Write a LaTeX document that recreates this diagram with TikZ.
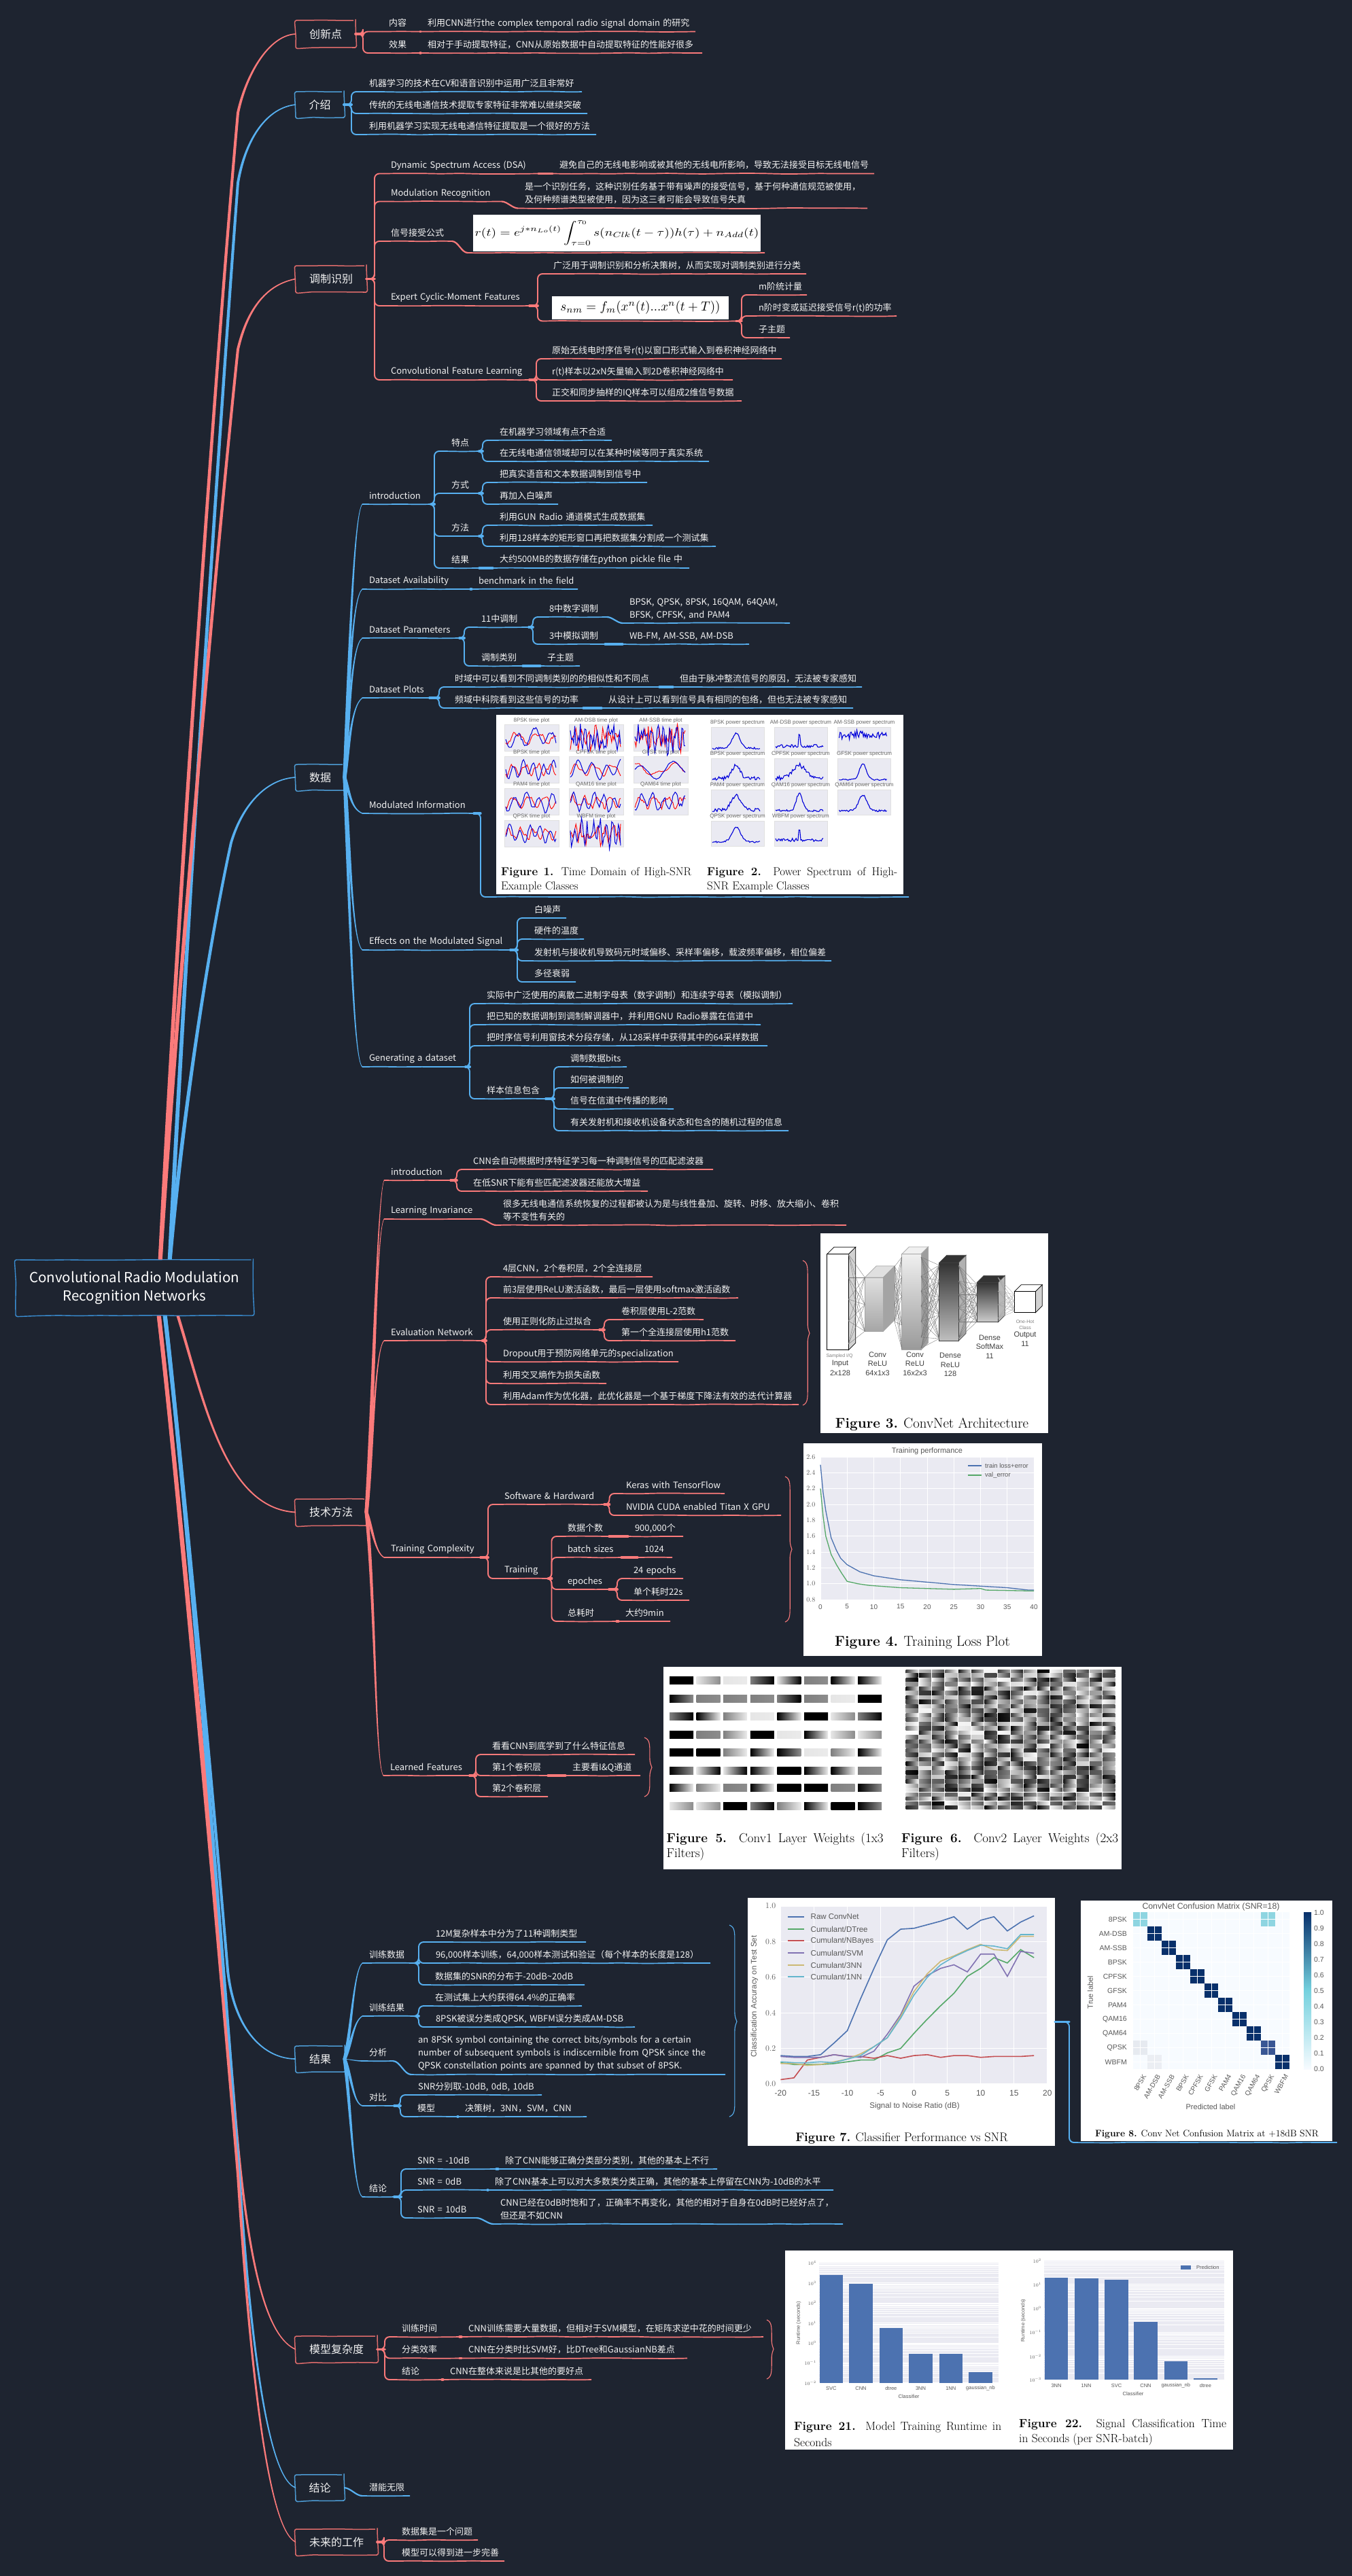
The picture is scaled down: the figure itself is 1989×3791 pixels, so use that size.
\documentclass[tikz,border=0pt]{standalone}
\usepackage{fontspec}
\usetikzlibrary{calc,decorations.pathmorphing}
\newfontfamily\cjk{Noto Sans CJK SC}
\newfontfamily\arl{Liberation Sans}
\definecolor{bgc}{HTML}{1E2430}
\definecolor{rd}{HTML}{FB7A7A}
\definecolor{bl}{HTML}{57B0F0}
\definecolor{rootb}{HTML}{3A8DD2}
\definecolor{panel}{HTML}{EAEAF2}
\definecolor{cB}{HTML}{4C72B0}
\definecolor{cG}{HTML}{55A868}
\definecolor{cR}{HTML}{C44E52}
\definecolor{cP}{HTML}{8172B2}
\definecolor{cY}{HTML}{CCB974}
\definecolor{cC}{HTML}{64B5CD}
\definecolor{cmD}{HTML}{08306B}
\definecolor{cmL}{HTML}{F7FBFF}
\colorlet{cur}{rd}
\tikzset{
 tn/.style={anchor=south west,inner xsep=10pt,inner ysep=5pt,outer sep=0pt,align=left,text=white!95!black,font=\cjk\fontsize{13}{19}\selectfont},
 ul/.style={draw=cur,line width=1.7pt,decorate,decoration={random steps,segment length=28pt,amplitude=0.55pt},rounded corners=8pt},
 brk/.style={draw=cur,line width=1.9pt,rounded corners=7pt},
 stub/.style={draw=cur,line width=3.4pt,line cap=round},
 slnt/.style={draw=cur,line width=2.2pt},
 tp/.style={fill=cur},
 bx/.style={draw=cur!88!black,line width=1.5pt,rounded corners=3pt,text=white!95!black,font=\cjk\fontsize{16}{20}\selectfont,inner sep=0pt,outer sep=0pt,decorate,decoration={random steps,segment length=22pt,amplitude=0.5pt}},
 sb/.style={draw=cur,line width=1.1pt},
 fig/.style={fill=white,draw=none,inner sep=0pt,outer sep=0pt,anchor=north west},
 ftt/.style={font=\arl\fontsize{8}{9}\selectfont,text=black!60,inner sep=0pt},
 ax/.style={font=\arl\fontsize{10.5}{12}\selectfont,text=black!65,inner sep=0pt},
 nlab/.style={font=\arl\fontsize{11}{13}\selectfont,text=black!75,inner sep=0pt},
 nsm/.style={font=\arl\fontsize{7}{8}\selectfont,text=black!50,inner sep=0pt},
 cpt/.style={inner sep=0pt,anchor=west,text=black,font=\fontsize{17}{20}\selectfont},
 nnl/.style={draw=black!55,line width=.35pt},
 tk/.style={font=\fontsize{7}{8}\selectfont,text=black!65,inner sep=0pt},
 tk2/.style={font=\arl\fontsize{7.5}{8}\selectfont,text=black!65,inner sep=0pt},
}
\newcommand\tn[5]{\pgfmathsetmacro\tnw{#3-#2-10}\node[tn,text width=\tnw pt] (#1) at (#2-10,#4) {\mbox{#5}\rule[-3pt]{0pt}{13pt}};\draw[ul] (#1.south west) -- (#1.south east);}
\newcommand\tnm[5]{\pgfmathsetmacro\tnw{#3-#2-10}\node[tn,text width=\tnw pt] (#1) at (#2-10,#4) {#5\rule[-3pt]{0pt}{13pt}};\draw[ul] (#1.south west) -- (#1.south east);}
\newcommand\bxn[6]{\pgfmathsetmacro\bw{#3-#2}\pgfmathsetmacro\bh{#5-#4}\node[bx,minimum width=\bw pt,minimum height=\bh pt] (#1) at ({(#2+#3)/2},{(#4+#5)/2}) {#6};}
\newcommand\br[3]{\draw[brk] (#1) -- (#3,0 |- #1) -- (#3,0 |- #2) -- (#2);\draw[stub] (#1) -- (#3,0 |- #1);}
\newcommand\lk[2]{\draw[stub] (#1.south east) -- (#2.south west);}
\newcommand\slnt[2]{\draw[slnt] (#1) to[out=0,in=180,looseness=.8] (#2);}
\newcommand\tapA[6]{\fill[tp] ($(#1)+(-#5,0)$) .. controls ($(#2)+(-#5*0.9,0)$) and ($(#3)+(-#6*1.1,0)$) .. ($(#4)+(-#6,0)$) -- ($(#4)+(#6,0)$) .. controls ($(#3)+(#6*1.1,0)$) and ($(#2)+(#5*0.9,0)$) .. ($(#1)+(#5,0)$) -- cycle;}
\newcommand\tapB[7]{\fill[tp] ($(#1)+(-#5,0)$) .. controls ($(#2)+(-#5*0.8,0)$) and ($(#3)+(-#6,{(#7)*(#6)})$) .. ($(#4)+(0,{(#7)*(#6)})$) -- ($(#4)+(0,{-(#7)*(#6)})$) .. controls ($(#3)+(#6,{-(#7)*(#6)})$) and ($(#2)+(#5*0.8,0)$) .. ($(#1)+(#5,0)$) -- cycle;}
\newcommand\sbrace[5]{\pgfmathsetmacro\xm{#1+0.72*(#2-#1)}\draw[sb] (#1,#3) .. controls (\xm,#3+3) and (\xm,#3+10) .. (\xm,#3+24) -- (\xm,#4-14) .. controls (\xm,#4-6) and (#2-1,#4-3) .. (#2,#4) .. controls (#2-1,#4+3) and (\xm,#4+6) .. (\xm,#4+14) -- (\xm,#5-24) .. controls (\xm,#5-10) and (\xm,#5-3) .. (#1,#5);}
\newcommand\fign[5]{\pgfmathsetmacro\bw{#4-#2}\pgfmathsetmacro\bh{#5-#3}\node[fig,minimum width=\bw pt,minimum height=\bh pt] (#1) at (#2,#3) {};}
\newcommand\tpl[6]{\fill[panel,draw=black!12,line width=.5pt] (#1,#2) rectangle ++(80,39);\node[ftt] at (#1+40,#2-6) {#3 time plot};
 \draw[red,line width=.9pt] plot[domain=0:1,samples=46,variable=\t] ({#1+2+\t*74},{#2+19.5+7*sin(\t*360*#4*0.8+#6+70)+3*sin(\t*360*#4*1.7+#6)+#5*(rnd-.5)*30});
 \draw[blue!85!black,line width=1pt] plot[domain=0:1,samples=46,variable=\t] ({#1+2+\t*74},{#2+19.5+10*sin(\t*360*#4+#6)+5*sin(\t*360*#4*0.37+#6*2)+#5*(rnd-.5)*30});}
\newcommand\spl[7]{\fill[panel,draw=black!12,line width=.5pt] (#1,#2) rectangle ++(78,37);\node[ftt] at (#1+39,#2-6.5) {#3 power spectrum};
 \draw[blue!85!black,line width=1.1pt] plot[domain=0:1,samples=52,variable=\t] ({#1+2+\t*70},{#2+32-#7-27*#4*exp(-((\t-0.5)/#5)*((\t-0.5)/#5))-#6*rnd*22});}
\newcommand\blk[8]{% x0 y0 x1 y1 depth topcol botcol outline
 \colorlet{sidec}{#7}
 \draw[#8,line width=.7pt,fill=#6] (#1,#2) -- ++(#5,-#5) -- (#3+#5,#2-#5) -- (#3,#2) -- cycle;
 \draw[#8,line width=.7pt,fill=sidec!75!black!70!white] (#3,#2) -- (#3+#5,#2-#5) -- (#3+#5,#4-#5) -- (#3,#4) -- cycle;
 \shade[top color=#6,bottom color=#7] (#1,#2) rectangle (#3,#4);\draw[#8,line width=.7pt] (#1,#2) rectangle (#3,#4);}
\begin{document}
\begin{tikzpicture}[x=1pt,y=-1pt]
\pgfmathsetseed{11}
\useasboundingbox (0,0) rectangle (1989,3791);
\fill[bgc] (0,0) rectangle (1989,3791);
% ---- root
\node[draw=rootb,line width=1.4pt,rounded corners=3pt,minimum width=349.5pt,minimum height=82pt,align=center,inner sep=0pt,text=white,font=\cjk\fontsize{20.5}{27}\selectfont,decorate,decoration={random steps,segment length=30pt,amplitude=.5pt}] (root) at (197.75,1895) {Convolutional Radio Modulation\\Recognition Networks};
\coordinate (rtA) at ([xshift=38pt]root.north);
\coordinate (rtB) at ([xshift=52pt]root.north);
\coordinate (rbA) at ([xshift=36pt]root.south);
\coordinate (rbB) at ([xshift=45pt]root.south);
\coordinate (rbC) at ([xshift=64pt]root.south);
% ---- 创新点
\colorlet{cur}{rd}
\bxn{cxd}{435}{523}{30}{70}{创新点}
\tn{nr}{572}{618}{46.5}{内容}
\tn{nrt}{629}{1023}{46.5}{利用CNN进行the complex temporal radio signal domain 的研究}
\tn{xg}{572}{618}{78}{效果}
\tn{xgt}{629}{1033}{78}{相对于手动提取特征，CNN从原始数据中自动提取特征的性能好很多}
\br{cxd.east}{nr.south west}{534}\br{cxd.east}{xg.south west}{534}\lk{nr}{nrt}\lk{xg}{xgt}
\coordinate (mA) at (350,166);
\tapA{rtA}{263,1300}{320,500}{mA}{3}{2}
\tapB{mA}{362,110}{395,52}{cxd.west}{2}{.8}{-1}
% ---- 介绍
\colorlet{cur}{bl}
\bxn{js}{435}{506}{135}{173}{介绍}
\tn{js1}{543}{856}{135}{机器学习的技术在CV和语音识别中运用广泛且非常好}
\tn{js2}{543}{864}{167}{传统的无线电通信技术提取专家特征非常难以继续突破}
\tn{js3}{543}{877}{198}{利用机器学习实现无线电通信特征提取是一个很好的方法}
\br{js.east}{js1.south west}{517}\br{js.east}{js2.south west}{517}\br{js.east}{js3.south west}{517}
\coordinate (mB) at (350,269);
\tapA{rtB}{275,1350}{325,600}{mB}{3}{2}
\tapB{mB}{362,200}{395,158}{js.west}{2}{.8}{-1}
% ---- 调制识别
\colorlet{cur}{rd}
\bxn{tz}{435}{539}{391}{430}{调制识别}
\tn{dsa}{575}{792}{255.5}{Dynamic Spectrum Access (DSA)}
\tn{dsat}{823}{1286}{255.5}{避免自己的无线电影响或被其他的无线电所影响，导致无法接受目标无线电信号}
\tn{mr}{575}{738}{296.5}{Modulation Recognition}
\tnm{mrt}{772}{1276}{306.5}{\mbox{是一个识别任务，这种识别任务基于带有噪声的接受信号，基于何种通信规范被使用，}\\\mbox{及何种频谱类型被使用，因为这三者可能会导致信号失真}}
\tn{xh}{575}{665}{355}{信号接受公式}
\node[fill=white,minimum width=423pt,minimum height=54pt,inner sep=0pt,outer sep=0pt] (eqa) at (907.5,343) {};
\node[xscale=1.95,yscale=1.6,text=black,inner sep=0pt] (eqat) at (eqa.center) {$\displaystyle r(t)=e^{j*n_{Lo}(t)}\int_{\tau=0}^{\tau_0} s(n_{Clk}(t-\tau))h(\tau)+n_{Add}(t)$};
\coordinate (eqal) at ([shift={(-8,2)}]eqa.south west);
\coordinate (eqar) at ([shift={(6,2)}]eqa.south east);
\draw[ul] (eqal) -- (eqar);
\tn{ec}{575}{779}{450}{Expert Cyclic-Moment Features}
\tn{ec1}{814}{1186}{403}{广泛用于调制识别和分析决策树，从而实现对调制类别进行分类}
\node[fill=white,minimum width=260pt,minimum height=34pt,inner sep=0pt,outer sep=0pt] (eqb) at (942,453) {};
\node[xscale=1.9,yscale=1.95,text=black,inner sep=0pt] (eqbt) at (eqb.center) {$s_{nm}=f_m(x^n(t)...x^n(t+T))$};
\coordinate (eqbl) at ([shift={(-13,2.5)}]eqb.south west);
\coordinate (eqbr) at ([shift={(11,2.5)}]eqb.south east);
\draw[ul] (eqbl) -- (eqbr);
\tn{ec2}{1116}{1187}{434}{m阶统计量}
\tn{ec3}{1116}{1319}{465}{n阶时变或延迟接受信号r(t)的功率}
\tn{ec4}{1116}{1162}{497}{子主题}
\tn{cf}{575}{779}{559}{Convolutional Feature Learning}
\tn{cf1}{812}{1150}{528}{原始无线电时序信号r(t)以窗口形式输入到卷积神经网络中}
\tn{cf2}{812}{1078}{559}{r(t)样本以2xN矢量输入到2D卷积神经网络中}
\tn{cf3}{812}{1091}{590}{正交和同步抽样的IQ样本可以组成2维信号数据}
\foreach \c in {dsa,mr,xh,ec,cf}{\br{tz.east}{\c.south west}{551}}
\lk{dsa}{dsat}
\slnt{mr.south east}{mrt.south west}
\slnt{xh.south east}{eqal}
\br{ec.south east}{ec1.south west}{791}\br{ec.south east}{eqbl}{791}
\foreach \c in {ec2,ec3,ec4}{\br{eqbr}{\c.south west}{1091}}
\foreach \c in {cf1,cf2,cf3}{\br{cf.south east}{\c.south west}{789}}
\coordinate (mC) at (350,514);
\tapA{rtA}{265,1400}{325,750}{mC}{3}{2}
\tapB{mC}{365,450}{395,418}{tz.west}{2}{.8}{-1}
% ---- 数据
\colorlet{cur}{bl}
\bxn{sj}{435}{507}{1125}{1163}{数据}
\tn{di}{543}{635}{742}{introduction}
\tn{td}{664}{705}{664}{特点}
\tn{td1}{735}{900}{648}{在机器学习领域有点不合适}
\tn{td2}{735}{1043}{679}{在无线电通信领域却可以在某种时候等同于真实系统}
\tn{fs}{664}{705}{726}{方式}
\tn{fs1}{735}{952}{710}{把真实语音和文本数据调制到信号中}
\tn{fs2}{735}{821}{742}{再加入白噪声}
\tn{ff}{664}{705}{789}{方法}
\tn{ff1}{735}{960}{773}{利用GUN Radio 通道模式生成数据集}
\tn{ff2}{735}{1053}{804}{利用128样本的矩形窗口再把数据集分割成一个测试集}
\tn{jg}{664}{705}{836}{结果}
\tn{jg1}{735}{1014}{836}{大约500MB的数据存储在python pickle file 中}
\foreach \c in {td,fs,ff,jg}{\br{di.south east}{\c.south west}{639}}
\foreach \c in {td1,td2}{\br{td.south east}{\c.south west}{710}}
\foreach \c in {fs1,fs2}{\br{fs.south east}{\c.south west}{710}}
\foreach \c in {ff1,ff2}{\br{ff.south east}{\c.south west}{710}}
\lk{jg}{jg1}
\tn{da}{543}{692}{867}{Dataset Availability}
\tn{da1}{704}{850}{867}{benchmark in the field}
\lk{da}{da1}
\tn{dp}{543}{676}{939}{Dataset Parameters}
\tn{dp1}{708}{778}{923}{11中调制}
\tn{dp2}{808}{893}{908}{8中数字调制}
\tnm{dp3}{926}{1162}{917}{\mbox{BPSK, QPSK, 8PSK, 16QAM, 64QAM,}\\\mbox{BFSK, CPFSK, and PAM4}}
\tn{dp4}{808}{890}{948}{3中模拟调制}
\tn{dp5}{926}{1102}{948}{WB-FM, AM-SSB, AM-DSB}
\tn{dp6}{708}{769}{980}{调制类别}
\tn{dp7}{805}{853}{980}{子主题}
\br{dp.south east}{dp1.south west}{683}\br{dp.south east}{dp6.south west}{683}
\br{dp1.south east}{dp2.south west}{784}\br{dp1.south east}{dp4.south west}{784}
\slnt{dp2.south east}{dp3.south west}
\lk{dp4}{dp5}\lk{dp6}{dp7}
\tn{dq}{543}{632}{1027}{Dataset Plots}
\tn{dq1}{669}{970}{1011}{时域中可以看到不同调制类别的的相似性和不同点}
\tn{dq2}{1000}{1268}{1011}{但由于脉冲整流信号的原因，无法被专家感知}
\tn{dq3}{669}{858}{1042}{频域中科院看到这些信号的功率}
\tn{dq4}{895}{1255}{1042}{从设计上可以看到信号具有相同的包络，但也无法被专家感知}
\br{dq.south east}{dq1.south west}{646}\br{dq.south east}{dq3.south west}{646}
\lk{dq1}{dq2}\lk{dq3}{dq4}
\tn{dm}{543}{697}{1197}{Modulated Information}
\fign{fa}{730}{1052}{1329}{1316}
\coordinate (fal) at ([shift={(-6,4)}]fa.south west);
\coordinate (far) at ([shift={(8,4)}]fa.south east);
\draw[ul] (fal) -- (far);
\br{dm.south east}{fal}{707}
\tn{de}{543}{751}{1398}{Effects on the Modulated Signal}
\tn{de1}{786}{833}{1351}{白噪声}
\tn{de2}{786}{859}{1382}{硬件的温度}
\tn{de3}{786}{1223}{1414}{发射机与接收机导致码元时域偏移、采样率偏移，载波频率偏移，相位偏差}
\tn{de4}{786}{847}{1445}{多径衰弱}
\foreach \c in {de1,de2,de3,de4}{\br{de.south east}{\c.south west}{761}}
\tn{dg}{543}{685}{1570}{Generating a dataset}
\tn{dg1}{716}{1166}{1477}{实际中广泛使用的离散二进制字母表（数字调制）和连续字母表（模拟调制）}
\tn{dg2}{716}{1119}{1508}{把已知的数据调制到调制解调器中，并利用GNU Radio暴露在信道中}
\tn{dg3}{716}{1129}{1539}{把时序信号利用窗技术分段存储，从128采样中获得其中的64采样数据}
\tn{dg4}{716}{803}{1617}{样本信息包含}
\tn{dg5}{839}{922}{1570}{调制数据bits}
\tn{dg6}{839}{925}{1601}{如何被调制的}
\tn{dg7}{839}{991}{1632}{信号在信道中传播的影响}
\tn{dg8}{839}{1160}{1664}{有关发射机和接收机设备状态和包含的随机过程的信息}
\foreach \c in {dg1,dg2,dg3,dg4}{\br{dg.south east}{\c.south west}{691}}
\foreach \c in {dg5,dg6,dg7,dg8}{\br{dg4.south east}{\c.south west}{815}}
\coordinate (mD) at (340,1240);
\tapA{rtB}{268,1650}{305,1400}{mD}{3}{2}
\tapB{mD}{358,1180}{395,1146}{sj.west}{2}{.8}{-1}
\tapB{sj.east}{514,950}{521,755}{di.south west}{2.6}{.8}{-1}
\tapB{sj.east}{514,1000}{518,880}{da.south west}{2.6}{.8}{-1}
\tapB{sj.east}{514,1050}{517,950}{dp.south west}{2.6}{.8}{-1}
\tapB{sj.east}{514,1100}{516,1040}{dq.south west}{2.6}{.8}{-1}
\tapB{sj.east}{515,1170}{517,1190}{dm.south west}{2.6}{.8}{1}
\tapB{sj.east}{515,1250}{518,1385}{de.south west}{2.6}{.8}{1}
\tapB{sj.east}{515,1350}{520,1560}{dg.south west}{2.6}{.8}{1}
% ---- figure 1,2
\tpl{742}{1066.5}{8PSK}{3}{.15}{10}\tpl{837}{1066.5}{AM-DSB}{9}{.9}{0}\tpl{932}{1066.5}{AM-SSB}{8}{1.1}{40}
\tpl{742}{1113}{BPSK}{5}{.1}{0}\tpl{837}{1113}{CPFSK}{3.5}{.05}{80}\tpl{932}{1113}{GFSK}{1.6}{.05}{200}
\tpl{742}{1160.5}{PAM4}{4}{.15}{30}\tpl{837}{1160.5}{QAM16}{5}{.15}{140}\tpl{932}{1160.5}{QAM64}{4.5}{.2}{60}
\tpl{742}{1207.5}{QPSK}{5}{.1}{120}\tpl{837}{1207.5}{WBFM}{8}{.8}{20}
\spl{1046}{1070.5}{8PSK}{.8}{.12}{.12}{0}\spl{1139}{1070.5}{AM-DSB}{.9}{.015}{.22}{2}\spl{1232.5}{1070.5}{AM-SSB}{.1}{.2}{.55}{14}
\spl{1046}{1116.5}{BPSK}{.75}{.12}{.25}{0}\spl{1139}{1116.5}{CPFSK}{.7}{.18}{.3}{0}\spl{1232.5}{1116.5}{GFSK}{.9}{.1}{.1}{0}
\spl{1046}{1162.5}{PAM4}{.8}{.14}{.22}{0}\spl{1139}{1162.5}{QAM16}{.95}{.09}{.15}{0}\spl{1232.5}{1162.5}{QAM64}{.85}{.12}{.12}{0}
\spl{1046}{1208.5}{QPSK}{.8}{.13}{.12}{0}\spl{1139}{1208.5}{WBFM}{.9}{.015}{.22}{2}
\node[cpt] (ca1) at (737,1284) {\makebox[280pt][s]{\textbf{Figure 1.} Time Domain of High-SNR}};
\node[cpt] (ca1b) at (737,1305) {Example Classes};
\node[cpt] (ca2) at (1040,1284) {\makebox[280pt][s]{\textbf{Figure 2.} Power Spectrum of High-}};
\node[cpt] (ca2b) at (1040,1305) {SNR Example Classes};
% ---- 技术方法
\colorlet{cur}{rd}
\bxn{js0}{435}{539}{2206}{2245}{技术方法}
\tapB{rbC}{300,2060}{330,2220}{js0.west}{2.2}{.9}{1}
\tn{ti}{575}{663}{1737}{introduction}
\tn{ti1}{696}{1049}{1721}{CNN会自动根据时序特征学习每一种调制信号的匹配滤波器}
\tn{ti2}{696}{953}{1753}{在低SNR下能有些匹配滤波器还能放大增益}
\foreach \c in {ti1,ti2}{\br{ti.south east}{\c.south west}{672}}
\tn{tl}{575}{707}{1794}{Learning Invariance}
\tnm{tl1}{740}{1245}{1803}{\mbox{很多无线电通信系统恢复的过程都被认为是与线性叠加、旋转、时移、放大缩小、卷积}\\\mbox{等不变性有关的}}
\slnt{tl.south east}{tl1.south west}
\tn{te}{575}{710}{1973}{Evaluation Network}
\tn{te1}{740}{960}{1879}{4层CNN，2个卷积层，2个全连接层}
\tn{te2}{740}{1086}{1910}{前3层使用ReLU激活函数，最后一层使用softmax激活函数}
\tn{te3}{740}{882}{1957}{使用正则化防止过拟合}
\tn{te3a}{914}{1035}{1942}{卷积层使用L-2范数}
\tn{te3b}{914}{1082}{1973}{第一个全连接层使用h1范数}
\tn{te4}{740}{998}{2004}{Dropout用于预防网络单元的specialization}
\tn{te5}{740}{892}{2036}{利用交叉熵作为损失函数}
\tn{te6}{740}{1175}{2067}{利用Adam作为优化器，此优化器是一个基于梯度下降法有效的迭代计算器}
\foreach \c in {te1,te2,te3,te4,te5,te6}{\br{te.south east}{\c.south west}{715}}
\foreach \c in {te3a,te3b}{\br{te3.south east}{\c.south west}{889}}
\sbrace{1181}{1191}{1855}{1962}{2068}
\tn{tt}{575}{707}{2292}{Training Complexity}
\tn{ts}{742}{889}{2214}{Software \& Hardward}
\tn{ts1}{921}{1066}{2198}{Keras with TensorFlow}
\tn{ts2}{921}{1149}{2230}{NVIDIA CUDA enabled Titan X GPU}
\tn{tr}{742}{807}{2323}{Training}
\tn{tr1}{835}{896}{2261}{数据个数}
\tn{tr1a}{934}{1005}{2261}{900,000个}
\tn{tr2}{835}{914}{2292}{batch sizes}
\tn{tr2a}{948}{989}{2292}{1024}
\tn{tr3}{835}{896}{2339}{epoches}
\tn{tr3a}{932}{1005}{2323}{24 epochs}
\tn{tr3b}{932}{1014}{2355}{单个耗时22s}
\tn{tr4}{835}{907}{2386}{总耗时}
\tn{tr4a}{920}{986}{2386}{大约9min}
\foreach \c in {ts,tr}{\br{tt.south east}{\c.south west}{718}}
\foreach \c in {ts1,ts2}{\br{ts.south east}{\c.south west}{896.5}}
\foreach \c in {tr1,tr2,tr3,tr4}{\br{tr.south east}{\c.south west}{811.5}}
\foreach \c in {tr3a,tr3b}{\br{tr3.south east}{\c.south west}{908}}
\lk{tr1}{tr1a}\lk{tr2}{tr2a}\lk{tr4}{tr4a}
\sbrace{1155}{1165}{2173}{2280}{2387}
\tn{tf}{574}{691}{2613}{Learned Features}
\tn{tf1}{724}{934}{2582}{看看CNN到底学到了什么特征信息}
\tn{tf2}{724}{806}{2613}{第1个卷积层}
\tn{tf2a}{842}{942}{2613}{主要看I\&Q通道}
\tn{tf3}{724}{806}{2644}{第2个卷积层}
\foreach \c in {tf1,tf2,tf3}{\br{tf.south east}{\c.south west}{700}}
\lk{tf2}{tf2a}
\sbrace{948}{959}{2557}{2601}{2644}
\tapB{js0.east}{549,2050}{555,1760}{ti.south west}{2.6}{.8}{-1}
\tapB{js0.east}{550,2100}{553,1810}{tl.south west}{2.6}{.8}{-1}
\tapB{js0.east}{548,2150}{551,1985}{te.south west}{2.6}{.8}{-1}
\tapB{js0.east}{548,2250}{552,2285}{tt.south west}{2.6}{.8}{1}
\tapB{js0.east}{552,2350}{552,2600}{tf.south west}{2.6}{.8}{1}
% ---- figure 3
\fign{fc}{1207}{1815}{1542}{2109}
\blk{1216.7}{1845.7}{1248.3}{1986.7}{10.5}{white}{white}{black}
\blk{1272.3}{1880}{1299.3}{1959.3}{17}{black!12}{black!35}{black!35}
\blk{1326.7}{1845.7}{1355}{1986.7}{10.7}{black!6}{black!40}{black!35}
\blk{1381.7}{1858.3}{1410}{1973.3}{11}{black!80}{black!25}{black!75}
\blk{1437.3}{1887.3}{1468.3}{1945.7}{10}{black!80}{black!20}{black!75}
\blk{1492.3}{1900.7}{1523.3}{1931.7}{10}{white}{white}{black}
\foreach \a in {1846,1880,1912,1944,1978}{\foreach \b in {1880,1920,1959}{\draw[nnl] (1248.3,\a) -- (1272.3,\b);}}
\foreach \a in {1864,1892,1920,1945}{\foreach \b in {1850,1880,1908,1950,1985}{\draw[nnl] (1316,\a) -- (1326.7,\b);}}
\foreach \a in {1850,1878,1900,1922,1945,1968,1984}{\foreach \b in {1862,1885,1910,1935,1970}{\draw[nnl] (1355,\a) -- (1381.7,\b);}}
\foreach \a in {1862,1885,1905,1925,1945,1970}{\foreach \b in {1890,1905,1920,1935,1945}{\draw[nnl] (1410,\a) -- (1437.3,\b);}}
\foreach \a in {1880,1900,1920,1940}{\foreach \b in {1905,1915,1925,1930}{\draw[nnl,draw=black!35] (1468.3,\a) -- (1492.3,\b);}}
\node[nsm] (l1) at (1235,1996) {Sampled I/Q};
\node[nlab] (l2) at (1236,2007) {Input};
\node[nlab] (l3) at (1236,2021) {2x128};
\node[nlab] (l4) at (1291,1994) {Conv};\node[nlab] (l5) at (1291,2007) {ReLU};\node[nlab] (l6) at (1291,2021) {64x1x3};
\node[nlab] (l7) at (1346,1994) {Conv};\node[nlab] (l8) at (1346,2007) {ReLU};\node[nlab] (l9) at (1346,2021) {16x2x3};
\node[nlab] (l10) at (1398,1995) {Dense};\node[nlab] (l11) at (1398,2009) {ReLU};\node[nlab] (l12) at (1398,2022) {128};
\node[nlab] (l13) at (1456,1969) {Dense};\node[nlab] (l14) at (1456,1982) {SoftMax};\node[nlab] (l15) at (1456,1996) {11};
\node[nsm] (l16) at (1508,1945) {One-Hot};\node[nsm] (l17) at (1508,1954) {Class};\node[nlab] (l18) at (1508,1965) {Output};\node[nlab] (l19) at (1508,1978) {11};
\node[cpt,anchor=center,font=\fontsize{20.8}{24}\selectfont] (cc) at (1371,2096) {\textbf{Figure 3.} ConvNet Architecture};
% ---- figure 4
\fign{fd}{1182}{2124}{1533}{2437}
\begin{scope}[shift={(1207,2447.4)},x=7.85pt,y=116.7pt]
\fill[panel] (0,.8) rectangle (40,2.6);
\foreach \v in {.8,1,...,2.6}{\draw[white,line width=1pt] (0,\v) -- (40,\v);\node[tk2,font=\arl\fontsize{10}{11}\selectfont] at (-1.8,\v) {\pgfmathprintnumber[fixed,fixed zerofill,precision=1]{\v}};}
\foreach \v in {0,5,...,40}{\draw[white,line width=1pt] (\v,.8) -- (\v,2.6);\node[tk2,font=\arl\fontsize{10}{11}\selectfont] at (\v,.71) {\v};}
\draw[cB,line width=1.3pt] plot coordinates {(0,2.5)(.5,2.15)(1,1.92)(2,1.58)(3,1.42)(3.8,1.32)(5,1.24)(7.4,1.15)(10,1.1)(15,1.05)(20,1.02)(25,.99)(30,.97)(35,.95)(39,.92)(40,.92)};
\draw[cG,line width=1.3pt] plot coordinates {(0,2.2)(.5,1.85)(1,1.6)(2,1.37)(3,1.24)(4,1.13)(5,1.03)(7,1)(9,.98)(15,.95)(25,.93)(30,.94)(31,.92)(39,.91)(40,.91)};
\end{scope}
\node[ax,font=\arl\fontsize{11}{13}\selectfont] (fdt) at (1364,2136) {Training performance};
\draw[cB,line width=1.3pt] (1424,2157) -- (1444,2157);
\draw[cG,line width=1.3pt] (1424,2171) -- (1444,2171);
\node[tk2,anchor=west,font=\arl\fontsize{9.5}{11}\selectfont] (fdl1) at (1449,2157) {train loss+error};
\node[tk2,anchor=west,font=\arl\fontsize{9.5}{11}\selectfont] (fdl2) at (1449,2171) {val\_error};
\node[cpt,anchor=center,font=\fontsize{21}{24}\selectfont] (cd) at (1357,2417) {\textbf{Figure 4.} Training Loss Plot};
% ---- figure 5,6
\fign{fe}{976}{2453}{1650}{2751}
\foreach \r/\y in {0/2467,1/2494,2/2520,3/2547,4/2573,5/2600,6/2625,7/2652}{\foreach \c in {0,...,7}{
 \pgfmathrandominteger{\pa}{0}{100}\pgfmathrandominteger{\pb}{0}{100}\pgfmathrandominteger{\pc}{0}{100}
 \pgfmathtruncatemacro\pa{\pa>50?100:(\pa>25?10:50)}\pgfmathtruncatemacro\pb{\pb>40?95:5}\pgfmathtruncatemacro\pc{\pc>60?100:(\pc>30?8:45)}
 \shade[left color=black!\pa,middle color=black!\pb,right color=black!\pc] ({985+\c*39.6},\y) rectangle ++(35,11.5);}}
\foreach \r in {0,...,15}{\foreach \c in {0,...,15}{\foreach \j in {0,1}{
 \pgfmathrandominteger{\pa}{0}{100}\pgfmathrandominteger{\pb}{0}{100}\pgfmathrandominteger{\pc}{0}{100}
 \shade[left color=black!\pa,middle color=black!\pb,right color=black!\pc] ({1332.5+\c*19.33},{2457+\r*12.95+\j*5.8}) rectangle ++(18,5.8);}}}
\node[cpt,font=\fontsize{19}{22}\selectfont] (ce) at (980.5,2707) {\makebox[319pt][s]{\textbf{Figure 5.} Conv1 Layer Weights (1x3}};
\node[cpt,font=\fontsize{19}{22}\selectfont] (ceb) at (980.5,2729) {Filters)};
\node[cpt,font=\fontsize{19}{22}\selectfont] (cf6) at (1326,2707) {\makebox[319pt][s]{\textbf{Figure 6.} Conv2 Layer Weights (2x3}};
\node[cpt,font=\fontsize{19}{22}\selectfont] (cf6b) at (1326,2729) {Filters)};
% ---- 结果
\colorlet{cur}{bl}
\bxn{jg0}{435}{507}{3011}{3049}{结果}
\tn{r1}{543}{613}{2889}{训练数据}
\tn{r1a}{641}{862}{2858}{12M复杂样本中分为了11种调制类型}
\tn{r1b}{641}{1045}{2889}{96,000样本训练，64,000样本测试和验证（每个样本的长度是128）}
\tn{r1c}{640}{860}{2921}{数据集的SNR的分布于-20dB\textasciitilde 20dB}
\foreach \c in {r1a,r1b,r1c}{\br{r1.south east}{\c.south west}{616}}
\tn{r2}{543}{613}{2967}{训练结果}
\tn{r2a}{640}{856}{2952}{在测试集上大约获得64.4\%的正确率}
\tn{r2b}{641}{934}{2983}{8PSK被误分类成QPSK, WBFM误分类成AM-DSB}
\foreach \c in {r2a,r2b}{\br{r2.south east}{\c.south west}{616}}
\tn{r3}{543}{578}{3033}{分析}
\tnm{r3a}{615}{1067}{3053}{\mbox{an 8PSK symbol containing the correct bits/symbols for a certain}\\\mbox{number of subsequent symbols is indiscernible from QPSK since the}\\\mbox{QPSK constellation points are spanned by that subset of 8PSK.}}
\slnt{r3.south east}{r3a.south west}
\tn{r4}{543}{580}{3099}{对比}
\tn{r4a}{615}{797}{3083}{SNR分别取-10dB, 0dB, 10dB}
\tn{r4b}{614}{673}{3115}{模型}
\tn{r4c}{684}{863}{3115}{决策树，3NN，SVM，CNN}
\foreach \c in {r4a,r4b}{\br{r4.south east}{\c.south west}{589}}
\lk{r4b}{r4c}
\tn{r5}{543}{580}{3233}{结论}
\tn{r5a}{614}{730}{3192}{SNR = -10dB}
\tn{r5b}{743}{1055}{3192}{除了CNN能够正确分类部分类别，其他的基本上不行}
\tn{r5c}{614}{717}{3223}{SNR = 0dB}
\tn{r5d}{728}{1226}{3223}{除了CNN基本上可以对大多数类分类正确，其他的基本上停留在CNN为-10dB的水平}
\tn{r5e}{614}{701}{3264}{SNR = 10dB}
\tnm{r5f}{736}{1240}{3273}{\mbox{CNN已经在0dB时饱和了，正确率不再变化，其他的相对于自身在0dB时已经好点了，}\\\mbox{但还是不如CNN}}
\foreach \c in {r5a,r5c,r5e}{\br{r5.south east}{\c.south west}{590}}
\lk{r5a}{r5b}\lk{r5c}{r5d}
\slnt{r5e.south east}{r5f.south west}
\tapB{jg0.east}{517,2990}{520,2900}{r1.south west}{2.6}{.8}{-1}
\tapB{jg0.east}{518,3005}{520,2975}{r2.south west}{2.6}{.8}{-1}
\tapB{jg0.east}{516,3031}{525,3033}{r3.south west}{2.6}{.8}{1}
\tapB{jg0.east}{518,3060}{520,3095}{r4.south west}{2.6}{.8}{1}
\tapB{jg0.east}{516,3100}{520,3225}{r5.south west}{2.6}{.8}{1}
\sbrace{1073}{1084}{2833}{2975}{3115}
\coordinate (mE) at (335,2900);
\tapA{rbB}{270,2180}{310,2600}{mE}{3}{2}
\tapB{mE}{345,2990}{390,3030}{jg0.west}{2}{.8}{1}
% ---- figure 7
\fign{fg}{1100}{2793}{1552}{3158}
\begin{scope}[shift={(1344.6,3067)},x=9.81pt,y=262pt]
\fill[panel] (-20,0) rectangle (20,1);
\foreach \v in {0,.2,.4,.6,.8,1}{\draw[white,line width=1.1pt] (-20,\v) -- (20,\v);\node[ax,font=\arl\fontsize{12}{14}\selectfont] at (-21.5,\v) {\pgfmathprintnumber[fixed,fixed zerofill,precision=1]{\v}};}
\foreach \v in {-20,-15,...,20}{\draw[white,line width=1.1pt] (\v,0) -- (\v,1);\node[ax,font=\arl\fontsize{12}{14}\selectfont] at (\v,-.052) {\v};}
\draw[cB,line width=1.6pt] plot coordinates {(-20,.16)(-18,.155)(-16,.155)(-14,.165)(-12,.23)(-10,.30)(-8,.48)(-6,.65)(-4,.81)(-2,.87)(0,.875)(2,.895)(4,.915)(6,.94)(8,.87)(10,.92)(12,.94)(14,.86)(16,.91)(18,.945)};
\draw[cG,line width=1.6pt] plot coordinates {(-20,.12)(-18,.11)(-16,.11)(-14,.11)(-12,.115)(-10,.125)(-8,.135)(-6,.135)(-4,.175)(-2,.20)(0,.285)(2,.365)(4,.44)(6,.51)(8,.605)(10,.65)(12,.71)(14,.68)(16,.755)(18,.71)};
\draw[cR,line width=1.6pt] plot coordinates {(-20,.025)(-18,.035)(-16,.135)(-14,.15)(-12,.165)(-10,.155)(-8,.155)(-6,.145)(-4,.16)(-2,.145)(0,.16)(2,.165)(4,.15)(6,.16)(8,.16)(10,.15)(12,.155)(14,.155)(16,.155)(18,.16)};
\draw[cP,line width=1.6pt] plot coordinates {(-20,.155)(-18,.15)(-16,.15)(-14,.15)(-12,.165)(-10,.155)(-8,.15)(-6,.185)(-4,.28)(-2,.39)(0,.55)(2,.61)(4,.65)(6,.67)(8,.63)(10,.73)(12,.73)(14,.605)(16,.745)(18,.735)};
\draw[cY,line width=1.6pt] plot coordinates {(-20,.115)(-18,.115)(-16,.105)(-14,.11)(-12,.125)(-10,.14)(-8,.17)(-6,.21)(-4,.26)(-2,.38)(0,.52)(2,.62)(4,.69)(6,.72)(8,.755)(10,.785)(12,.755)(14,.75)(16,.83)(18,.83)};
\draw[cC,line width=1.6pt] plot coordinates {(-20,.125)(-18,.12)(-16,.12)(-14,.125)(-12,.12)(-10,.14)(-8,.16)(-6,.21)(-4,.26)(-2,.37)(0,.5)(2,.60)(4,.67)(6,.715)(8,.75)(10,.78)(12,.775)(14,.76)(16,.84)(18,.84)};
\end{scope}
\foreach \y/\c/\t in {2821/cB/Raw ConvNet,2839/cG/Cumulant\slash DTree,2856/cR/Cumulant\slash NBayes,2874/cP/Cumulant\slash SVM,2892/cY/Cumulant\slash 3NN,2909/cC/Cumulant\slash 1NN}{
 \draw[\c,line width=1.6pt] (1159,\y) -- (1183,\y);
 \node[ax,anchor=west,font=\arl\fontsize{11.5}{13}\selectfont] at (1192.5,\y) {\t};}
\node[ax,font=\arl\fontsize{11.5}{13}\selectfont] (fgx) at (1345.5,3099) {Signal to Noise Ratio (dB)};
\node[ax,rotate=90,font=\arl\fontsize{11.5}{13}\selectfont] (fgy) at (1110,2938) {Classification Accuracy on Test Set};
\node[cpt,anchor=center,font=\fontsize{18.3}{22}\selectfont] (cg) at (1326.5,3147) {\textbf{Figure 7.} Classifier Performance vs SNR};
% ---- figure 8
\fign{fh}{1590}{2797}{1960}{3151}
\coordinate (fhl) at ([shift={(-9,2)}]fh.south west);
\coordinate (fhr) at ([shift={(7,2)}]fh.south east);
\draw[ul] (fhl) -- (fhr);
\br{fg.east}{fhl}{1573}
\fill[cmL] (1667,2814) rectangle (1897,3045);
\foreach \i/\c in {0/cmD,1/cmD,2/cmD,3/cmD,4/cmD,5/cmD,6/cmD,7/cmD,8/cmD,9/{cmD!90!blue!80!white},10/cmD}{\fill[\c] ({1667+\i*20.91},{2814+\i*21}) rectangle ++(20.91,21);}
\fill[cmD!45!cyan!45!white] (1667,2814) rectangle ++(20.91,21);
\fill[cmD!45!cyan!45!white] ({1667+9*20.91},2814) rectangle ++(20.91,21);
\fill[cmD!10!white] (1667,{2814+9*21}) rectangle ++(20.91,21);
\fill[cmD!8!white] ({1667+20.91},{2814+10*21}) rectangle ++(20.91,21);
\foreach \i in {0,...,10}{\draw[white,line width=.9pt] ({1667+(\i+.5)*20.91},2814) -- ({1667+(\i+.5)*20.91},3045);\draw[white,line width=.9pt] (1667,{2814+(\i+.5)*21}) -- (1897,{2814+(\i+.5)*21});}
\foreach \i/\t in {0/8PSK,1/AM-DSB,2/AM-SSB,3/BPSK,4/CPFSK,5/GFSK,6/PAM4,7/QAM16,8/QAM64,9/QPSK,10/WBFM}{
 \node[ax,anchor=east] at (1658,{2824.5+\i*21}) {\t};
 \node[ax,anchor=north east,rotate=60,font=\arl\fontsize{10}{11}\selectfont] at ({1667+(\i+.5)*20.91+3},3052) {\t};}
\node[ax,font=\arl\fontsize{12.3}{14}\selectfont] (fht) at (1781.5,2806) {ConvNet Confusion Matrix (SNR=18)};
\node[ax,font=\arl\fontsize{11}{13}\selectfont] (fhx) at (1781,3101) {Predicted label};
\node[ax,rotate=90,font=\arl\fontsize{11}{13}\selectfont] (fhy) at (1604,2932) {True label};
\shade[top color=cmD,bottom color=cmL,middle color=cmD!40!cyan!55!white] (1918,2814) rectangle (1929,3045);
\foreach \i/\t in {0/1.0,1/0.9,2/0.8,3/0.7,4/0.6,5/0.5,6/0.4,7/0.3,8/0.2,9/0.1,10/0.0}{\node[ax,anchor=west] at (1933,{2815+\i*23}) {\t};}
\node[cpt,anchor=center,font=\fontsize{13.9}{17}\selectfont] (ch) at (1775.5,3141) {\textbf{Figure 8.} Conv Net Confusion Matrix at +18dB SNR};
% ---- 模型复杂度
\colorlet{cur}{rd}
\bxn{mx}{435}{555}{3438}{3477}{模型复杂度}
\tn{m1}{591}{676}{3439}{训练时间}
\tn{m1a}{689}{1123}{3439}{CNN训练需要大量数据，但相对于SVM模型，在矩阵求逆中花的时间更少}
\tn{m2}{591}{676}{3470.5}{分类效率}
\tn{m2a}{689}{1011}{3470.5}{CNN在分类时比SVM好，比DTree和GaussianNB差点}
\tn{m3}{591}{650}{3502}{结论}
\tn{m3a}{662}{870}{3502}{CNN在整体来说是比其他的要好点}
\foreach \c in {m1,m2,m3}{\br{mx.east}{\c.south west}{566}}
\lk{m1}{m1a}\lk{m2}{m2a}\lk{m3}{m3a}
\sbrace{1128}{1138}{3414}{3457}{3501}
\coordinate (mF) at (345,3100);
\tapA{rbA}{262,2180}{320,2800}{mF}{3}{2}
\tapB{mF}{365,3350}{395,3440}{mx.west}{2}{.8}{1}
% ---- 结论
\colorlet{cur}{bl}
\bxn{jl}{435}{506}{3642}{3680}{结论}
\tn{jl1}{543}{603}{3673}{潜能无限}
\slnt{jl.east}{jl1.south west}
\coordinate (mG) at (352,3200);
\tapA{rbB}{272,2180}{330,2900}{mG}{3}{2}
\tapB{mG}{372,3500}{400,3650}{jl.west}{2}{.8}{1}
% ---- 未来的工作
\colorlet{cur}{rd}
\bxn{wl}{435}{555}{3722}{3760}{未来的工作}
\tn{w1}{591}{703}{3738}{数据集是一个问题}
\tn{w2}{591}{742}{3769}{模型可以得到进一步完善}
\foreach \c in {w1,w2}{\br{wl.east}{\c.south west}{565}}
\coordinate (mH) at (350,3200);
\tapA{rbA}{262,2180}{325,2900}{mH}{3}{2}
\tapB{mH}{372,3550}{400,3725}{wl.west}{2}{.8}{1}
% ---- figure 21,22
\fign{fk}{1155}{3312}{1814}{3605}
\fill[panel] (1205,3330) rectangle (1469,3506.5);
\foreach \k in {0,...,5}{\foreach \m in {0,.3,.48,.6,.7,.78,.85,.9,.95}{\draw[white,line width=.4pt] (1205,{3506.5-(\k+\m)*29.4}) -- (1469,{3506.5-(\k+\m)*29.4});}}
\foreach \a/\b/\t/\l in {1205.7/1240/3348/SVC,1249/1284/3360.5/CNN,1293.6/1328/3426/dtree,1337/1372/3464/3NN,1381.5/1416/3464/1NN,1425/1460/3491.4/gaussian\_nb}{
 \fill[cB] (\a,\t) rectangle (\b,3506.5);
 \node[tk2] at ({(\a+\b)/2},3515) {\l};}
\foreach \y/\e in {3330/4,3360/3,3389/2,3419/1,3448/0,3477/-1,3507/-2}{\node[tk,anchor=east] at (1201,\y) {$10^{\e}$};}
\node[tk2] (fkx) at (1337,3526.5) {Classifier};
\node[tk2,rotate=90] (fky) at (1175,3418.6) {Runtime (seconds)};
\fill[panel] (1536,3326.6) rectangle (1800.6,3502.4);
\foreach \k in {0,...,4}{\foreach \m in {0,.3,.48,.6,.7,.78,.85,.9,.95}{\draw[white,line width=.4pt] (1536,{3502.4-(\k+\m)*35.2}) -- (1800.6,{3502.4-(\k+\m)*35.2});}}
\foreach \a/\b/\t/\l in {1537/1571/3352.4/3NN,1580.5/1615.6/3353/1NN,1625/1660/3355/SVC,1668/1703/3417/CNN,1712.6/1747/3475.4/gaussian\_nb,1756/1791/3500/dtree}{
 \fill[cB] (\a,\t) rectangle (\b,3502.4);
 \node[tk2] at ({(\a+\b)/2},3511) {\l};}
\foreach \y/\e in {3327/2,3362/1,3397/0,3432/-1,3468/-2,3502/-3}{\node[tk,anchor=east] at (1532,\y) {$10^{\e}$};}
\fill[cB] (1736.7,3334) rectangle (1752,3340);
\node[tk2,anchor=west] (fkl) at (1760,3337) {Prediction};
\node[tk2] (fkx2) at (1667,3523) {Classifier};
\node[tk2,rotate=90] (fky2) at (1505.5,3415) {Runtime (seconds)};
\node[cpt,font=\fontsize{17.5}{20}\selectfont] (ck1) at (1168,3572) {\makebox[305pt][s]{\textbf{Figure 21.} Model Training Runtime in}};
\node[cpt,font=\fontsize{17.5}{20}\selectfont] (ck1b) at (1168,3594) {Seconds};
\node[cpt,font=\fontsize{17.5}{20}\selectfont] (ck2) at (1499,3568) {\makebox[305pt][s]{\textbf{Figure 22.} Signal Classification Time}};
\node[cpt,font=\fontsize{17.5}{20}\selectfont] (ck2b) at (1499,3590) {in Seconds (per SNR-batch)};
\end{tikzpicture}
\end{document}
